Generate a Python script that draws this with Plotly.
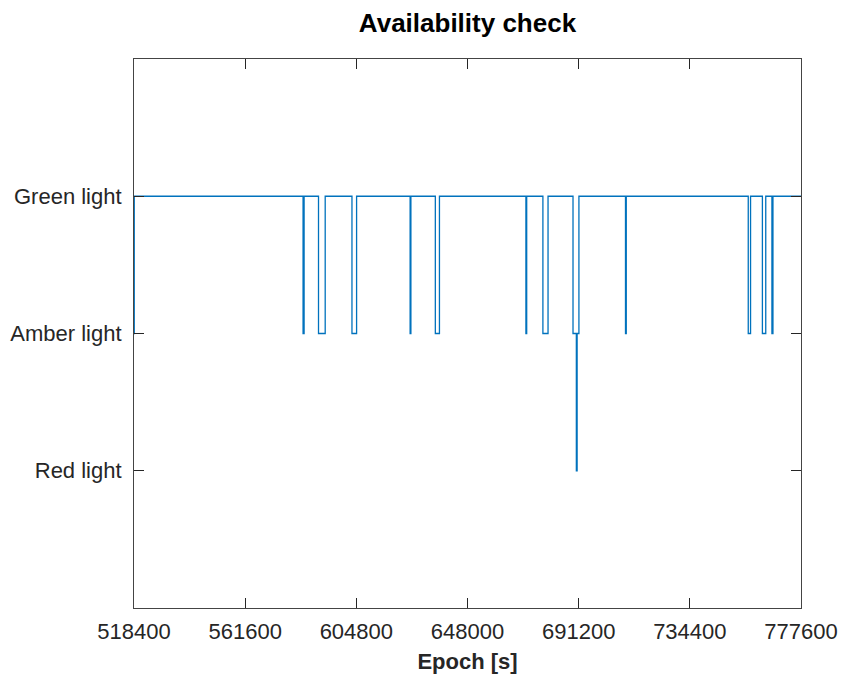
import plotly.graph_objects as go

# Availability state: 1 = Red, 2 = Amber, 3 = Green
epoch = [518400, 518500,
         584100, 584500,
         590100, 592700,
         603100, 604900,
         625700, 626000,
         635500, 637100,
         670700, 671000,
         677300, 679300,
         689000, 690300, 690600, 691300,
         709400, 709700,
         757100, 758000,
         762600, 763900,
         766300, 766700,
         777600]
state = [2, 3,
         2, 3,
         2, 3,
         2, 3,
         2, 3,
         2, 3,
         2, 3,
         2, 3,
         2, 1, 2, 3,
         2, 3,
         2, 3,
         2, 3,
         2, 3,
         3]

x_ticks = [518400, 561600, 604800, 648000, 691200, 734400, 777600]
y_ticks = [1, 2, 3]
y_labels = ["Red light", "Amber light", "Green light"]

FONT = "Liberation Sans, Arial"

fig = go.Figure()
fig.add_trace(go.Scatter(x=epoch, y=state, mode="lines",
                         line=dict(color="#0072BD", width=1.3, shape="hv"),
                         showlegend=False))

axis_common = dict(showline=True, linecolor="#444444", linewidth=1, mirror="ticks",
                   ticks="inside", ticklen=10, tickcolor="#262626", tickwidth=1,
                   showgrid=False, zeroline=False, automargin=False,
                   tickfont=dict(family=FONT, size=22, color="#262626"))

fig.update_layout(
    width=843, height=679,
    margin=dict(l=134, r=42, t=59, b=71),
    paper_bgcolor="white", plot_bgcolor="white",
    title=dict(text="<b>Availability check</b>", x=0.5, xanchor="center",
               xref="paper", y=0.967, yanchor="middle",
               font=dict(family=FONT, size=26, color="black")),
    xaxis=dict(range=[518400, 777600], tickvals=x_ticks,
               ticktext=[str(v) for v in x_ticks], ticklabelstandoff=4,
               title=dict(text="<b>Epoch [s]</b>", standoff=10,
                          font=dict(family=FONT, size=22, color="#262626")),
               **axis_common),
    yaxis=dict(range=[0, 4], tickvals=y_ticks, ticktext=y_labels,
               ticklabelstandoff=7, **axis_common),
)

fig.write_html("out.html")
